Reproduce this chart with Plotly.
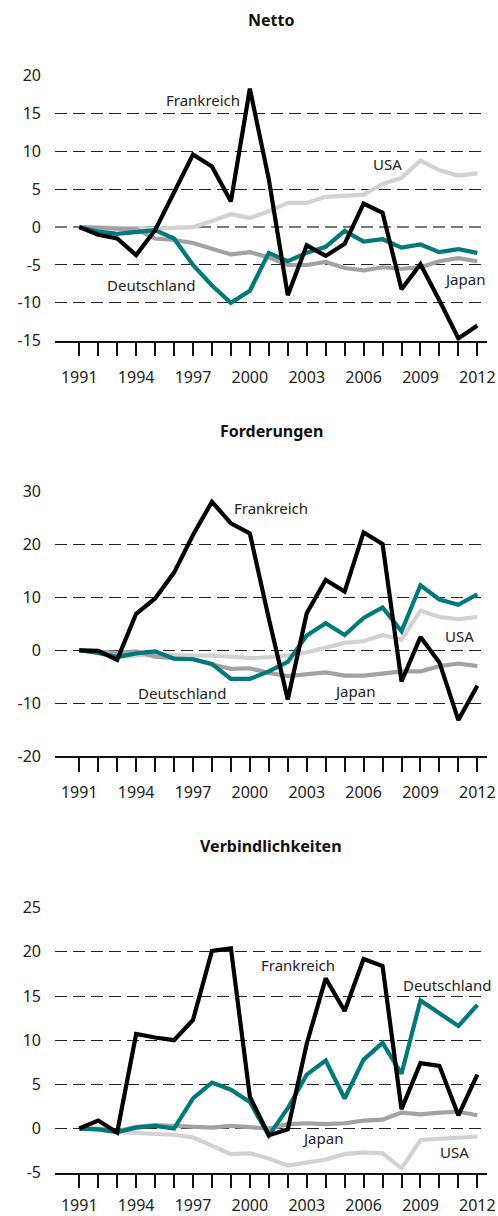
import plotly.graph_objects as go
from plotly.subplots import make_subplots

years = list(range(1991, 2013))
tick_labels = [str(y) if (y - 1991) % 3 == 0 else "" for y in years]

# Netto
netto_fr = [0, -1.0, -1.5, -3.7, -0.4, 4.5, 9.6, 8.0, 3.4, 18.3, 6.3, -9.0, -2.4, -3.8, -2.2, 3.1, 1.9, -8.2, -4.9, -9.7, -14.7, -13.0]
netto_de = [0, -0.6, -0.9, -0.6, -0.4, -1.5, -5.0, -7.7, -10.0, -8.4, -3.4, -4.5, -3.4, -2.6, -0.5, -1.9, -1.6, -2.7, -2.3, -3.3, -2.9, -3.4]
netto_us = [0, -0.05, -0.1, -0.15, -0.2, -0.1, 0.0, 0.8, 1.7, 1.2, 2.1, 3.2, 3.2, 4.0, 4.2, 4.3, 5.7, 6.5, 8.8, 7.5, 6.8, 7.1]
netto_jp = [0, -0.1, -0.2, -0.3, -1.5, -1.7, -2.1, -2.8, -3.6, -3.3, -4.0, -5.0, -5.0, -4.6, -5.4, -5.7, -5.3, -5.5, -5.3, -4.5, -4.1, -4.5]

# Forderungen
ford_fr = [0, -0.1, -1.8, 6.9, 9.8, 14.7, 21.8, 28.1, 24.0, 22.1, 6.0, -9.3, 7.0, 13.3, 11.1, 22.3, 20.1, -5.9, 2.5, -2.3, -13.2, -6.7]
ford_de = [0, -0.5, -1.3, -0.6, -0.2, -1.6, -1.7, -2.6, -5.4, -5.4, -4.0, -2.2, 2.8, 5.1, 2.9, 6.1, 8.1, 3.6, 12.3, 9.6, 8.6, 10.6]
ford_us = [0, -0.4, -1.3, -1.0, -0.7, -0.9, -0.9, -1.0, -1.2, -1.5, -1.3, -1.0, -0.4, 0.6, 1.4, 1.7, 2.9, 2.0, 7.5, 6.3, 5.9, 6.3]
ford_jp = [0, -0.2, -0.5, -0.2, -1.2, -1.5, -1.7, -2.7, -3.5, -3.4, -4.3, -4.9, -4.6, -4.2, -4.8, -4.8, -4.4, -4.0, -4.0, -3.0, -2.5, -3.0]

# Verbindlichkeiten
verb_fr = [0, 0.9, -0.45, 10.7, 10.3, 10.0, 12.3, 20.1, 20.4, 3.6, -0.75, -0.1, 9.6, 17.0, 13.3, 19.2, 18.4, 2.2, 7.4, 7.1, 1.5, 6.1]
verb_de = [0, -0.1, -0.4, 0.1, 0.3, 0.0, 3.4, 5.2, 4.4, 3.0, -0.8, 2.3, 6.1, 7.7, 3.4, 7.8, 9.7, 6.2, 14.5, 13.0, 11.6, 14.0]
verb_us = [0, -0.1, -0.4, -0.5, -0.5, -0.7, -1.0, -1.9, -2.9, -2.8, -3.4, -4.2, -3.9, -3.5, -2.9, -2.7, -2.8, -4.5, -1.3, -1.2, -1.0, -0.9]
verb_jp = [0, 0.0, -0.3, 0.2, 0.4, 0.3, 0.2, 0.1, 0.3, 0.2, 0.0, 0.5, 0.6, 0.5, 0.6, 0.9, 1.0, 1.8, 1.6, 1.8, 1.9, 1.5]

titles = ["Netto", "Forderungen", "Verbindlichkeiten"]
y_ticks = [
    [-15, -10, -5, 0, 5, 10, 15, 20],
    [-20, -10, 0, 10, 20, 30],
    [-5, 0, 5, 10, 15, 20, 25],
]

C_FR = "#000000"
C_DE = "#00797b"
C_US = "#d2d2d4"
C_JP = "#a2a2a6"

FONT = "Noto Sans"
W = 498.0
H = 1216.0
L, R = 55.0, 487.0
px_areas = [(75.7, 340.7), (491.7, 756.0), (907.7, 1172.7)]

fig = make_subplots(rows=3, cols=1)

data = [
    (netto_us, netto_jp, netto_de, netto_fr),
    (ford_us, ford_jp, ford_de, ford_fr),
    (verb_us, verb_jp, verb_de, verb_fr),
]
names = ["USA", "Japan", "Deutschland", "Frankreich"]
colors = [C_US, C_JP, C_DE, C_FR]

# empty helper trace so the overlaying axis (grey zero line of panel 1) is drawn
fig.add_trace(go.Scatter(x=[], y=[], xaxis="x", yaxis="y4", showlegend=False,
                         hoverinfo="skip"))

for i, series in enumerate(data):
    for s, n, c in zip(series, names, colors):
        fig.add_trace(go.Scatter(x=years, y=s, mode="lines", name=n,
                                 line=dict(color=c, width=4.2),
                                 showlegend=False, hoverinfo="skip"),
                      row=i + 1, col=1)

tickfont = dict(family=FONT, size=16, color="#222222")

for i in range(3):
    top, bot = px_areas[i]
    dom = [1 - bot / H, 1 - top / H]
    ax = "yaxis" if i == 0 else f"yaxis{i+1}"
    xa = "xaxis" if i == 0 else f"xaxis{i+1}"
    tv = y_ticks[i]
    if i == 0:
        main_tv = [v for v in tv if v != 0]
    else:
        main_tv = tv
    fig.layout[ax].update(
        domain=dom, range=[tv[0], tv[-1]],
        tickvals=main_tv, ticktext=[str(v) for v in main_tv],
        showgrid=True, gridcolor="#222222", griddash="12px,6px", gridwidth=1.3,
        zeroline=False, showline=False, ticks="",
        tickfont=tickfont, ticklabelstandoff=13, fixedrange=True, automargin=False,
    )
    fig.layout[xa].update(
        range=[1989.72, 2012.51], tickvals=years, ticktext=tick_labels,
        ticks="outside", ticklen=14, tickwidth=1.5, tickcolor="#111111",
        showgrid=False, zeroline=False, showline=True, linecolor="#111111",
        linewidth=1.5, tickfont=tickfont,
        ticklabelstandoff=7 if i < 2 else 3, fixedrange=True, automargin=False,
    )

# grey zero line of the first panel, drawn by an overlaying axis
fig.update_layout(yaxis4=dict(
    overlaying="y", anchor="x", side="left", range=[y_ticks[0][0], y_ticks[0][-1]],
    tickvals=[0], ticktext=["0"], showgrid=True, gridcolor="#7a7a7a",
    griddash="12px,6px", gridwidth=2, zeroline=False, showline=False, ticks="",
    tickfont=tickfont, ticklabelstandoff=13, fixedrange=True, automargin=False,
))

title_y = [20, 431, 846]
for t, yp in zip(titles, title_y):
    fig.add_annotation(text=f"<b>{t}</b>", xref="paper", yref="paper",
                       x=0.5, y=1 - yp / H,
                       showarrow=False, font=dict(family=FONT, size=16, color="#111111"),
                       xanchor="center", yanchor="middle")

# series labels: (panel, text, x, y)
labels = [
    (1, "Frankreich", 1997.53, 16.8),
    (1, "USA", 2007.26, 8.3),
    (1, "Deutschland", 1994.81, -7.6),
    (1, "Japan", 2011.33, -6.8),
    (2, "Frankreich", 2001.12, 26.9),
    (2, "USA", 2011.06, 2.7),
    (2, "Deutschland", 1996.45, -8.1),
    (2, "Japan", 2005.5, -7.7),
    (3, "Frankreich", 2002.54, 18.5),
    (3, "Deutschland", 2010.43, 16.3),
    (3, "Japan", 2003.81, -1.1),
    (3, "USA", 2010.8, -2.6),
]
for p, t, x, y in labels:
    fig.add_annotation(text=t, x=x, y=y, xref=f"x{p if p > 1 else ''}",
                       yref=f"y{p if p > 1 else ''}", showarrow=False,
                       font=dict(family=FONT, size=15, color="#222222"),
                       xanchor="center", yanchor="middle")

fig.update_layout(
    width=W, height=H,
    margin=dict(l=L, r=W - R, t=0, b=0, autoexpand=False),
    plot_bgcolor="white", paper_bgcolor="white",
    showlegend=False,
)

post = """
document.body.style.margin='0';
document.documentElement.style.overflow='hidden';
"""

fig.write_html("out.html", config={"displayModeBar": False}, post_script=post)
